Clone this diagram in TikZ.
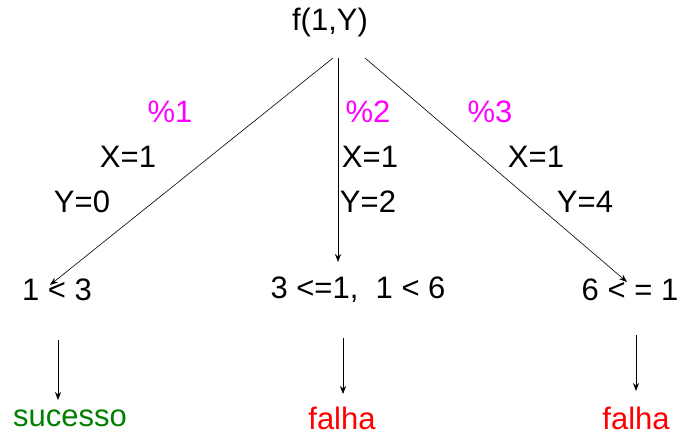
\documentclass[tikz,border=0pt]{standalone}
\usepackage{fontspec}
\setmainfont{Liberation Sans}
\definecolor{predMagenta}{RGB}{255,0,255}
\definecolor{okGreen}{RGB}{0,128,0}
\definecolor{failRed}{RGB}{255,0,0}
\usetikzlibrary{arrows.meta,positioning}

\begin{document}
\begin{tikzpicture}[x=1pt,y=-1pt,
    txt/.style={inner sep=0pt, font=\fontsize{31}{34}\selectfont},
    clause/.style={txt, text=predMagenta},
    edge/.style={-{Stealth[length=8pt,width=6pt]}, line width=0.6pt}]
  \useasboundingbox (0,0) rectangle (677,437);

  % goal
  \node[txt] (goal) at (330,22) {f(1,Y)};

  % clause labels and bindings
  \node[clause] (c1) at (170,112) {\%1};
  \node[clause] (c2) at (368,112) {\%2};
  \node[clause] (c3) at (490,112) {\%3};
  \node[txt] (x1) at (128,157) {X=1};
  \node[txt] (y1) at (82,202) {Y=0};
  \node[txt] (x2) at (370,157) {X=1};
  \node[txt] (y2) at (368,202) {Y=2};
  \node[txt] (x3) at (536,157) {X=1};
  \node[txt] (y3) at (585,202) {Y=4};

  % resulting tests
  \node[txt] (t1) at (57,290) {1 < 3};
  \node[txt] (t2) at (358,290) {3\ <=1,\ \ 1 <\ 6};
  \node[txt] (t3) at (630,290) {6 <\ = 1};

  % outcomes
  \node[txt, text=okGreen] (r1) at (70,418) {sucesso};
  \node[txt, text=failRed] (r2) at (342,418) {falha};
  \node[txt, text=failRed] (r3) at (636,418) {falha};

  \coordinate (e1) at (50,285);
  \coordinate (e2) at (338,262);
  \coordinate (e3) at (627,282);
  \draw[edge] (333,58) coordinate (s1) -- (e1);
  \draw[edge] (338,58) coordinate (s2) -- (e2);
  \draw[edge] (365,58) coordinate (s3) -- (e3);

  \draw[edge] (58,340) coordinate (b1) -- (58,400);
  \draw[edge] (343,338) coordinate (b2) -- (343,394);
  \draw[edge] (636,335) coordinate (b3) -- (636,391);
\end{tikzpicture}
\end{document}
